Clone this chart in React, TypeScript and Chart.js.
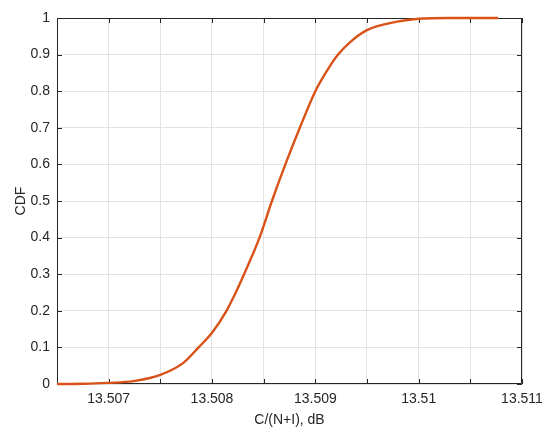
import React, { useEffect, useRef } from "react";
import { Chart, registerables } from "chart.js";

Chart.register(...registerables);

// C/(N+I) in dB and CDF values
const snrValues = [
  13.5065, 13.50677, 13.50699, 13.50724, 13.5075, 13.50772, 13.50787, 13.508,
  13.50814, 13.50823, 13.50831, 13.50846, 13.50858, 13.50871, 13.50885,
  13.509, 13.5091, 13.50922, 13.50934, 13.5095, 13.50979, 13.51, 13.5103,
  13.51077,
];
const cdfValues = [
  0.0, 0.0005, 0.003, 0.008, 0.025, 0.057, 0.1, 0.14, 0.2, 0.25, 0.3, 0.4,
  0.5, 0.6, 0.7, 0.8, 0.85, 0.9, 0.935, 0.967, 0.99, 0.998, 1.0, 1.0,
];

const xTicks = [
  13.5065, 13.507, 13.5075, 13.508, 13.5085, 13.509, 13.5095, 13.51, 13.5105,
  13.511,
];
const xTickLabels = ["", "13.507", "", "13.508", "", "13.509", "", "13.51", "", "13.511"];
const yTicks = [0, 0.1, 0.2, 0.3, 0.4, 0.5, 0.6, 0.7, 0.8, 0.9, 1];
const yTickLabels = ["0", "0.1", "0.2", "0.3", "0.4", "0.5", "0.6", "0.7", "0.8", "0.9", "1"];

const FONT = "'Liberation Sans', Arial, Helvetica, sans-serif";
const TEXT = "#262626";

const boxPlugin = {
  id: "matlabBox",
  beforeDatasetsDraw(chart: any) {
    const { ctx, chartArea, scales } = chart;
    const { left, right, top, bottom } = chartArea;
    ctx.save();
    ctx.strokeStyle = TEXT;
    ctx.lineWidth = 1;
    ctx.beginPath();
    ctx.rect(left + 0.5, top + 0.5, right - left - 1, bottom - top - 1);
    ctx.stroke();
    ctx.beginPath();
    const tl = 5;
    for (const v of xTicks) {
      const px = Math.round(scales.x.getPixelForValue(v)) + 0.5;
      ctx.moveTo(px, bottom);
      ctx.lineTo(px, bottom - tl);
      ctx.moveTo(px, top);
      ctx.lineTo(px, top + tl);
    }
    for (const v of yTicks) {
      const py = Math.round(scales.y.getPixelForValue(v)) + 0.5;
      ctx.moveTo(left, py);
      ctx.lineTo(left + tl, py);
      ctx.moveTo(right, py);
      ctx.lineTo(right - tl, py);
    }
    ctx.stroke();
    ctx.restore();
  },
};

export default function App() {
  const ref = useRef<HTMLCanvasElement | null>(null);

  useEffect(() => {
    if (!ref.current) return;
    const data = snrValues.map((x, i) => ({ x, y: cdfValues[i] }));
    const chart = new Chart(ref.current, {
      type: "line",
      data: {
        datasets: [
          {
            data,
            borderColor: "#D95319",
            borderWidth: 2.4,
            pointRadius: 0,
            cubicInterpolationMode: "monotone",
            fill: false,
            clip: false as any,
          },
        ],
      },
      options: {
        responsive: false,
        animation: false,
        devicePixelRatio: 1,
        layout: { padding: { left: 13, right: 28, top: 18, bottom: 0 } },
        plugins: {
          legend: { display: false },
          tooltip: { enabled: false },
        },
        scales: {
          x: {
            type: "linear",
            min: 13.5065,
            max: 13.511,
            afterBuildTicks: (axis: any) => {
              axis.ticks = xTicks.map((v) => ({ value: v }));
            },
            afterFit: (axis: any) => {
              axis.height = 47;
            },
            ticks: {
              autoSkip: false,
              maxRotation: 0,
              padding: 7,
              color: TEXT,
              font: { family: FONT, size: 14 },
              callback: (_v: any, i: number) => xTickLabels[i],
            },
            grid: { color: "#e3e3e3", drawTicks: false },
            border: { display: false },
            title: {
              display: true,
              text: "C/(N+I), dB",
              color: TEXT,
              font: { family: FONT, size: 14 },
              padding: { top: 0, bottom: 2 },
            },
          },
          y: {
            type: "linear",
            min: 0,
            max: 1,
            afterBuildTicks: (axis: any) => {
              axis.ticks = yTicks.map((v) => ({ value: v }));
            },
            afterFit: (axis: any) => {
              axis.width = 44;
            },
            ticks: {
              autoSkip: false,
              padding: 7,
              color: TEXT,
              font: { family: FONT, size: 14 },
              callback: (_v: any, i: number) => yTickLabels[i],
            },
            grid: { color: "#e3e3e3", drawTicks: false },
            border: { display: false },
            title: {
              display: true,
              text: "CDF",
              color: TEXT,
              font: { family: FONT, size: 14 },
              padding: { top: 0, bottom: 0 },
            },
          },
        },
      },
      plugins: [boxPlugin],
    });
    return () => chart.destroy();
  }, []);

  return (
    <div style={{ position: "fixed", left: 0, top: 0, width: 550, height: 431, background: "#fff" }}>
      <canvas ref={ref} width={550} height={431} style={{ display: "block" }} />
    </div>
  );
}
